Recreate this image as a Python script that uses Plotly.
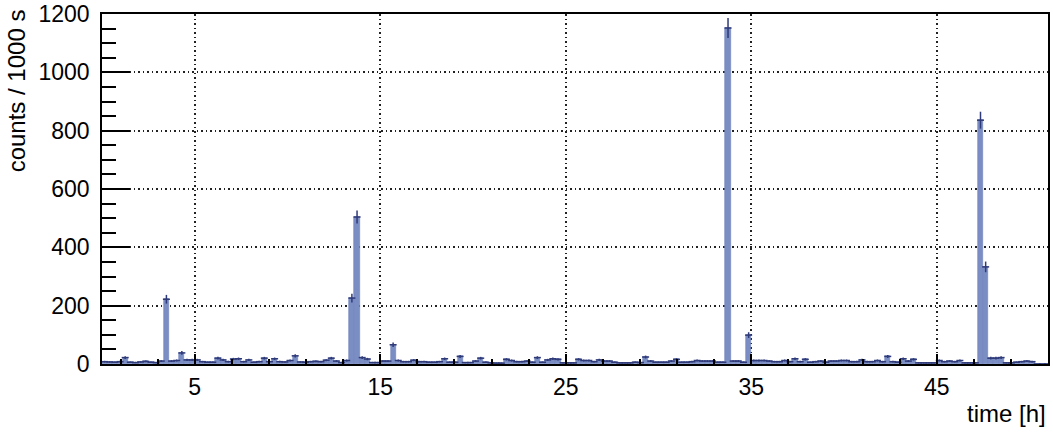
import numpy as np
import plotly.graph_objects as go

# counts per 1000 s bin, 184 bins starting at t = 0 h
counts = [
    8, 7, 6, 8, 22, 6, 5, 7, 9, 6, 5, 10, 222, 10, 12, 38, 14, 14,
    14, 8, 6, 6, 20, 14, 8, 17, 18, 8, 14, 6, 8, 20, 8, 18, 8, 7,
    12, 28, 7, 6, 8, 9, 8, 13, 20, 10, 5, 12, 226, 504, 22, 17, 5, 5,
    10, 10, 66, 12, 8, 8, 13, 8, 8, 6, 6, 8, 18, 6, 6, 26, 5, 5,
    10, 20, 6, 4, 3, 3, 16, 12, 8, 8, 10, 6, 22, 6, 14, 18, 16, 4,
    4, 4, 16, 12, 12, 8, 14, 10, 10, 6, 4, 4, 4, 6, 5, 24, 10, 6,
    6, 6, 10, 16, 6, 6, 8, 12, 10, 10, 10, 6, 6, 1152, 10, 10, 6, 99,
    12, 12, 12, 10, 8, 8, 12, 8, 18, 8, 16, 6, 8, 10, 6, 10, 10, 12,
    12, 8, 8, 14, 8, 8, 12, 8, 26, 8, 6, 18, 10, 16, 4, 4, 4, 4,
    12, 8, 10, 8, 12, 4, 4, 4, 836, 333, 20, 20, 22, 4, 4, 6, 8, 10,
    8, 0, 0, 0,
]
bin_width_h = 1000 / 3600
centers = [(i + 0.5) * bin_width_h for i in range(len(counts))]
errors = np.sqrt(counts)

x_ticks = [5, 15, 25, 35, 45]
y_ticks = [0, 200, 400, 600, 800, 1000, 1200]

fill = "#7b8ec4"
edge = "#2f3a78"

fig = go.Figure()

# histogram bars
fig.add_trace(go.Bar(
    x=centers, y=counts, width=bin_width_h,
    marker=dict(color=fill, line=dict(color="#6d80ba", width=0.6)),
    hoverinfo="skip",
))

# error crosses, ROOT "E" style
fig.add_trace(go.Scatter(
    x=centers, y=counts, mode="markers",
    marker=dict(symbol="line-ew", size=5, line=dict(color=edge, width=1.5)),
    error_y=dict(type="data", array=errors, color=edge, thickness=1.5, width=0),
))

tick_font = dict(family="Liberation Sans, Arial, sans-serif", size=23, color="black")
title_font = dict(family="Liberation Sans, Arial, sans-serif", size=24, color="black")

fig.update_layout(
    width=1053, height=434,
    margin=dict(l=102, r=5, t=14, b=70),
    paper_bgcolor="white", plot_bgcolor="white",
    bargap=0, showlegend=False,
    font=tick_font,
    xaxis=dict(
        range=[0, 51.0], tickvals=x_ticks, ticks="inside", ticklen=10,
        tickcolor="black", tickwidth=1.5, automargin=False,
        showgrid=True, gridcolor="#222", griddash="1.5px,3px", gridwidth=1.5,
        showline=True, linecolor="black", linewidth=1.5, mirror=True,
        zeroline=False, tickfont=tick_font, ticklabelstandoff=2,
        minor=dict(tick0=1, dtick=2, ticks="inside", ticklen=5,
                   tickcolor="black", tickwidth=1.5, showgrid=False),
    ),
    yaxis=dict(
        range=[0, 1200], tickvals=y_ticks, ticks="inside", ticklen=28,
        tickcolor="black", tickwidth=1.5, automargin=False,
        showgrid=True, gridcolor="#222", griddash="1.5px,3px", gridwidth=1.5,
        showline=True, linecolor="black", linewidth=1.5, mirror=True,
        zeroline=False, tickfont=tick_font, ticklabelstandoff=6,
        minor=dict(dtick=50, ticks="inside", ticklen=14,
                   tickcolor="black", tickwidth=1.5, showgrid=False),
    ),
    annotations=[
        dict(text="counts / 1000 s", textangle=-90, xref="paper", yref="paper",
             x=-0.09, y=1.02, xanchor="center", yanchor="top",
             showarrow=False, font=title_font),
        dict(text="time [h]", xref="paper", yref="paper",
             x=1.0, y=-0.14, xanchor="right", yanchor="middle",
             showarrow=False, font=title_font),
    ],
)

# drop the default page margin so the figure sits at the window corner
fig.write_html("out.html", config={"displayModeBar": False},
               post_script="document.body.style.margin='0';")
